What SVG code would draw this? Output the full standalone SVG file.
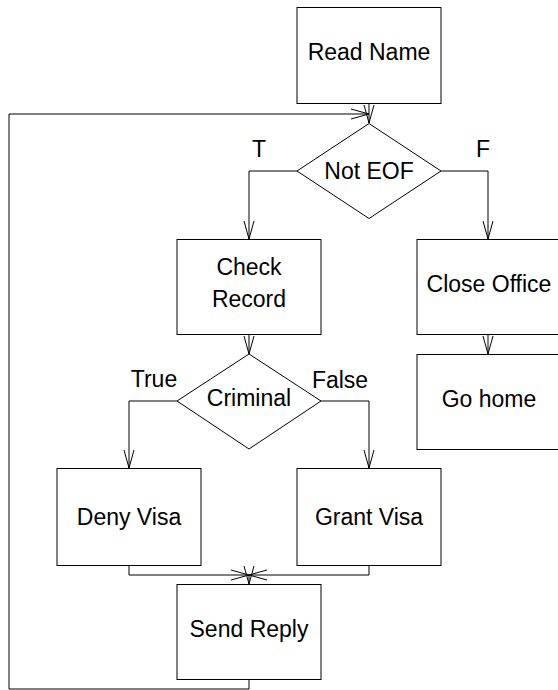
<svg xmlns="http://www.w3.org/2000/svg" width="558" height="690" viewBox="0 0 558 690">
  <defs>
    <marker id="open-arrow" markerUnits="userSpaceOnUse" markerWidth="24" markerHeight="14" viewBox="-20 -7 24 14" refX="0" refY="0" orient="auto" overflow="visible">
      <path d="M-18,-5 L0,0 L-18,5" fill="none" stroke="#000" stroke-width="1"/>
    </marker>
  </defs>
  <style>
    .box { fill: #fff; stroke: #000; stroke-width: 1; }
    .decision { fill: #fff; stroke: #000; stroke-width: 1; }
    .label { font-family: "Liberation Sans", Arial, sans-serif; font-size: 23px; fill: #000; text-anchor: middle; }
    .edge { fill: none; stroke: #000; stroke-width: 1; marker-end: url(#open-arrow); }
  </style>
  <rect width="558" height="690" fill="#fff"/>

  <!-- connectors -->
  <g id="connectors">
    <path class="edge" d="M369,103.5 V123"/>
    <path class="edge" d="M249,680 V689 H9 V114 H369"/>
    <path class="edge" d="M298,171 H249 V239"/>
    <path class="edge" d="M441,171 H488 V239"/>
    <path class="edge" d="M488,334 V354"/>
    <path class="edge" d="M249,334 V354"/>
    <path class="edge" d="M177,401 H129 V468"/>
    <path class="edge" d="M321,401 H369 V468"/>
    <path class="edge" d="M129,565 V575 H249"/>
    <path class="edge" d="M369,565 V575 H249"/>
    <path class="edge" d="M249,575 V584"/>
  </g>

  <!-- edge labels -->
  <g id="edge-labels">
    <text class="label" x="259" y="157">T</text>
    <text class="label" x="483" y="157">F</text>
    <text class="label" x="154" y="387">True</text>
    <text class="label" x="340" y="388">False</text>
  </g>

  <g id="read-name">
    <rect class="box" x="297" y="7.5" width="144" height="96"/>
    <text class="label" x="369" y="60">Read Name</text>
  </g>

  <g id="not-eof">
    <polygon class="decision" points="369,123.5 441,171 369,218.5 297,171"/>
    <text class="label" x="369" y="179">Not EOF</text>
  </g>

  <g id="check-record">
    <rect class="box" x="177" y="239.5" width="144" height="95"/>
    <text class="label" x="249" y="275">Check</text>
    <text class="label" x="249" y="307">Record</text>
  </g>

  <g id="close-office">
    <rect class="box" x="417" y="239.5" width="144" height="95"/>
    <text class="label" x="489" y="292">Close Office</text>
  </g>

  <g id="go-home">
    <rect class="box" x="417" y="354.5" width="144" height="95"/>
    <text class="label" x="489" y="407">Go home</text>
  </g>

  <g id="criminal">
    <polygon class="decision" points="249,354 321,401 249,449 177,401"/>
    <text class="label" x="249" y="406">Criminal</text>
  </g>

  <g id="deny-visa">
    <rect class="box" x="57" y="468.5" width="144" height="97"/>
    <text class="label" x="129" y="525">Deny Visa</text>
  </g>

  <g id="grant-visa">
    <rect class="box" x="297" y="468.5" width="144" height="97"/>
    <text class="label" x="369" y="525">Grant Visa</text>
  </g>

  <g id="send-reply">
    <rect class="box" x="177" y="584.5" width="144" height="95"/>
    <text class="label" x="249" y="637">Send Reply</text>
  </g>
</svg>
